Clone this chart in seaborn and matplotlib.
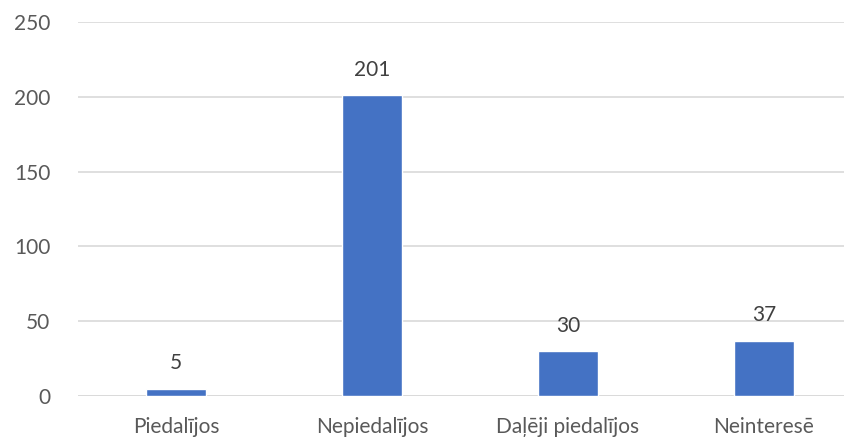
import matplotlib
matplotlib.use("Agg")
import matplotlib.pyplot as plt
import seaborn as sns
import pandas as pd

categories = ["Piedalījos", "Nepiedalījos", "Daļēji piedalījos", "Neinteresē"]
values = [5, 201, 30, 37]
yticks = [0, 50, 100, 150, 200, 250]

sns.set_theme(style="white")
plt.rcParams['font.family'] = ['Lato', 'DejaVu Sans']

df = pd.DataFrame({"cat": categories, "val": values})
fig = plt.figure(figsize=(8.45, 4.38), dpi=100)
ax = fig.add_axes([78/845, 1-396/438, (845-78)/845, (396-22)/438])
sns.barplot(data=df, x="cat", y="val", color="#4472C4", width=0.31, saturation=1, ax=ax, zorder=3)
ax.set_xlim(-0.5, -0.5 + (845-78)/196)
ax.set_ylim(0, 250)
ax.set_yticks(yticks)
ax.yaxis.grid(True, color="#D9D9D9", linewidth=1.2, zorder=0)
ax.set_axisbelow(True)
for s in ax.spines.values():
    s.set_visible(False)
ax.axhline(0, color="#D9D9D9", linewidth=1.2, zorder=1)
ax.set_xlabel("")
ax.set_ylabel("")
ax.tick_params(axis='both', length=0, labelsize=15, labelcolor="#595959")
ax.tick_params(axis='x', pad=15)
ax.tick_params(axis='y', pad=20)
for c in ax.containers:
    ax.bar_label(c, labels=[str(v) for v in values], padding=11, fontsize=15, color="#404040")
fig.savefig("out.png", dpi=100)
